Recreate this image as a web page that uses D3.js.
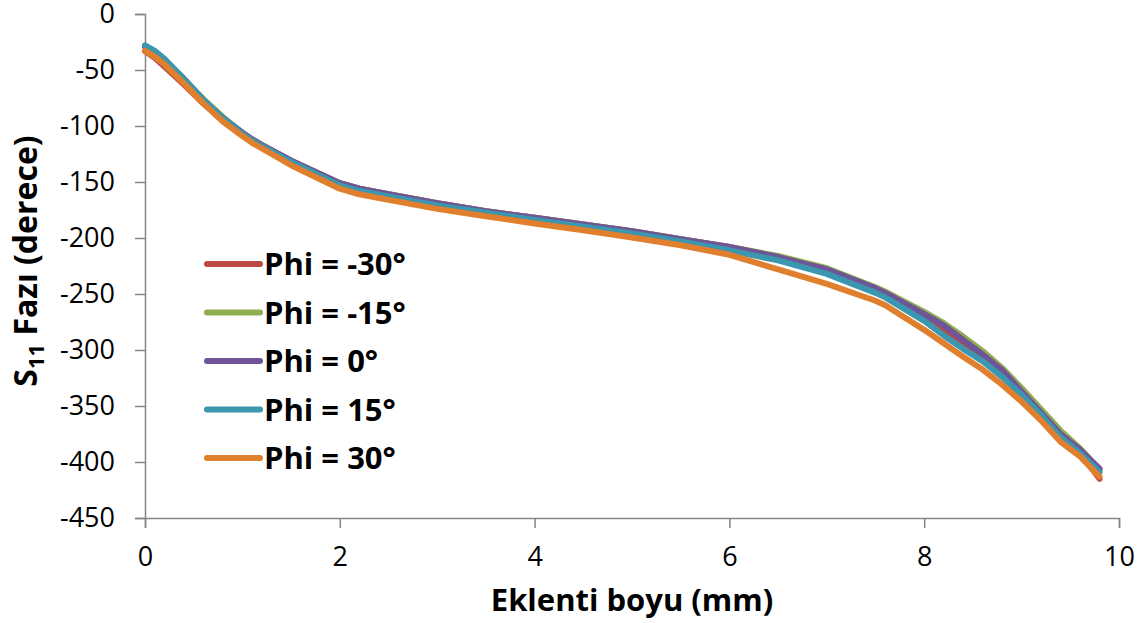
<!DOCTYPE html>
<html>
<head>
<meta charset="utf-8">
<script src="https://cdn.jsdelivr.net/npm/d3@7"></script>
<style>
  html, body { margin: 0; padding: 0; background: #fff; }
  svg { display: block; }
  text { font-family: "Open Sans", "Noto Sans", sans-serif; fill: #000; }
</style>
</head>
<body>
<svg id="chart" width="1146" height="623"></svg>
<script>
// Insertion length (mm)
const lengths = [0, 0.1, 0.2, 0.4, 0.6, 0.8, 1.0, 1.1, 1.2, 1.5, 2.0, 2.2, 2.5, 3.0, 3.5, 4.0, 4.5, 5.0, 5.5, 6.0, 6.5, 7.0, 7.5, 7.6, 8.0, 8.2, 8.4, 8.6, 8.8, 9.0, 9.2, 9.4, 9.6, 9.8];

// S11 phase (degrees) for each Phi angle
const phiM30 = [-33, -39, -47, -63, -80, -95, -107, -112, -117, -131, -151, -156, -161, -169, -176, -182, -188, -194, -201, -208, -217, -228, -245, -249, -269, -281, -294, -306, -320, -337, -357, -376, -392, -415];
const phiM15 = [-29, -34, -41, -58, -76, -92, -106, -112, -117, -131, -151, -156, -161, -169, -176, -182, -188, -194, -201, -208, -216, -227, -244, -248, -266, -276, -288, -301, -316, -334, -353, -372, -388, -407];
const phi0   = [-29, -34, -41, -58, -77, -93, -106, -112, -117, -131, -151, -156, -161, -169, -176, -182, -188, -194, -201, -208, -217, -228, -245, -249, -268, -278, -291, -304, -318, -337, -356, -375, -389, -406];
const phi15  = [-28, -33, -40, -58, -77, -93, -107, -113, -118, -132, -153, -158, -163, -171, -177.5, -184, -190, -196, -203, -211, -220, -232, -249, -253, -274, -287, -299, -310, -324, -340, -358, -378, -392, -409];
const phi30  = [-33, -38, -45, -62, -80, -96, -109, -115, -120, -135, -156, -161, -166, -174, -180.5, -187, -193, -199.5, -206.5, -215, -228, -241, -256, -260, -282, -294, -306, -317.5, -331, -346, -363, -382, -395, -413];

const seriesNames = ["Phi = -30°", "Phi = -15°", "Phi = 0°", "Phi = 15°", "Phi = 30°"];
const seriesValues = [phiM30, phiM15, phi0, phi15, phi30];
const seriesColors = ["#BB4A47", "#8FAE4F", "#6F5597", "#3B96B0", "#E0802F"];

const xTicks = [0, 2, 4, 6, 8, 10];
const yTicks = [0, -50, -100, -150, -200, -250, -300, -350, -400, -450];

const xTitle = "Eklenti boyu (mm)";

const svg = d3.select("#chart");
const axisColor = "#868686";

const x = d3.scaleLinear().domain([0, 10]).range([145, 1119]);
const y = d3.scaleLinear().domain([0, -450]).range([14, 518]);

// Axes
const xAxis = svg.append("g")
  .attr("transform", `translate(0,${y(-450)})`)
  .call(d3.axisBottom(x).tickValues(xTicks).tickSize(10).tickPadding(19).tickFormat(d3.format("d")));
const yAxis = svg.append("g")
  .attr("transform", `translate(${x(0)},0)`)
  .call(d3.axisLeft(y).tickValues(yTicks).tickSize(10).tickPadding(20).tickFormat(d => d === 0 ? "0" : "-" + Math.abs(d)));

[xAxis, yAxis].forEach(g => {
  g.select(".domain").attr("stroke", axisColor).attr("stroke-width", 1.5);
  g.selectAll(".tick line").attr("stroke", axisColor).attr("stroke-width", 1.5);
  g.selectAll(".tick text")
    .attr("font-family", '"Open Sans", "Noto Sans", sans-serif')
    .attr("font-size", 27)
    .attr("fill", "#000");
});
xAxis.selectAll(".tick text").attr("dy", "0.71em");

// Series lines
const line = d3.line()
  .x((d, i) => x(lengths[i]))
  .y(d => y(d));

seriesValues.forEach((vals, i) => {
  svg.append("path")
    .datum(vals)
    .attr("fill", "none")
    .attr("stroke", seriesColors[i])
    .attr("stroke-width", 6)
    .attr("stroke-linejoin", "round")
    .attr("stroke-linecap", "round")
    .attr("d", line);
});

// Legend
const legend = svg.append("g");
const legendTop = 264, legendStep = 48.5;
seriesNames.forEach((name, i) => {
  const ly = legendTop + i * legendStep;
  legend.append("line")
    .attr("x1", 207).attr("x2", 260)
    .attr("y1", ly).attr("y2", ly)
    .attr("stroke", seriesColors[i])
    .attr("stroke-width", 6)
    .attr("stroke-linecap", "round");
  legend.append("text")
    .attr("x", 264).attr("y", ly)
    .attr("dy", "0.36em")
    .attr("font-size", 31)
    .attr("font-weight", "bold")
    .text(name);
});

// Axis titles
svg.append("text")
  .attr("x", (x(0) + x(10)) / 2)
  .attr("y", 600)
  .attr("dy", "0.36em")
  .attr("text-anchor", "middle")
  .attr("font-size", 31)
  .attr("font-weight", "bold")
  .text(xTitle);

const yTitle = svg.append("text")
  .attr("transform", "translate(37,261) rotate(-90)")
  .attr("text-anchor", "middle")
  .attr("font-size", 32)
  .attr("font-weight", "bold");
yTitle.append("tspan").text("S");
yTitle.append("tspan").attr("font-size", 22).attr("dy", 7).text("11");
yTitle.append("tspan").attr("dy", -7).text(" Fazı (derece)");
</script>
</body>
</html>
